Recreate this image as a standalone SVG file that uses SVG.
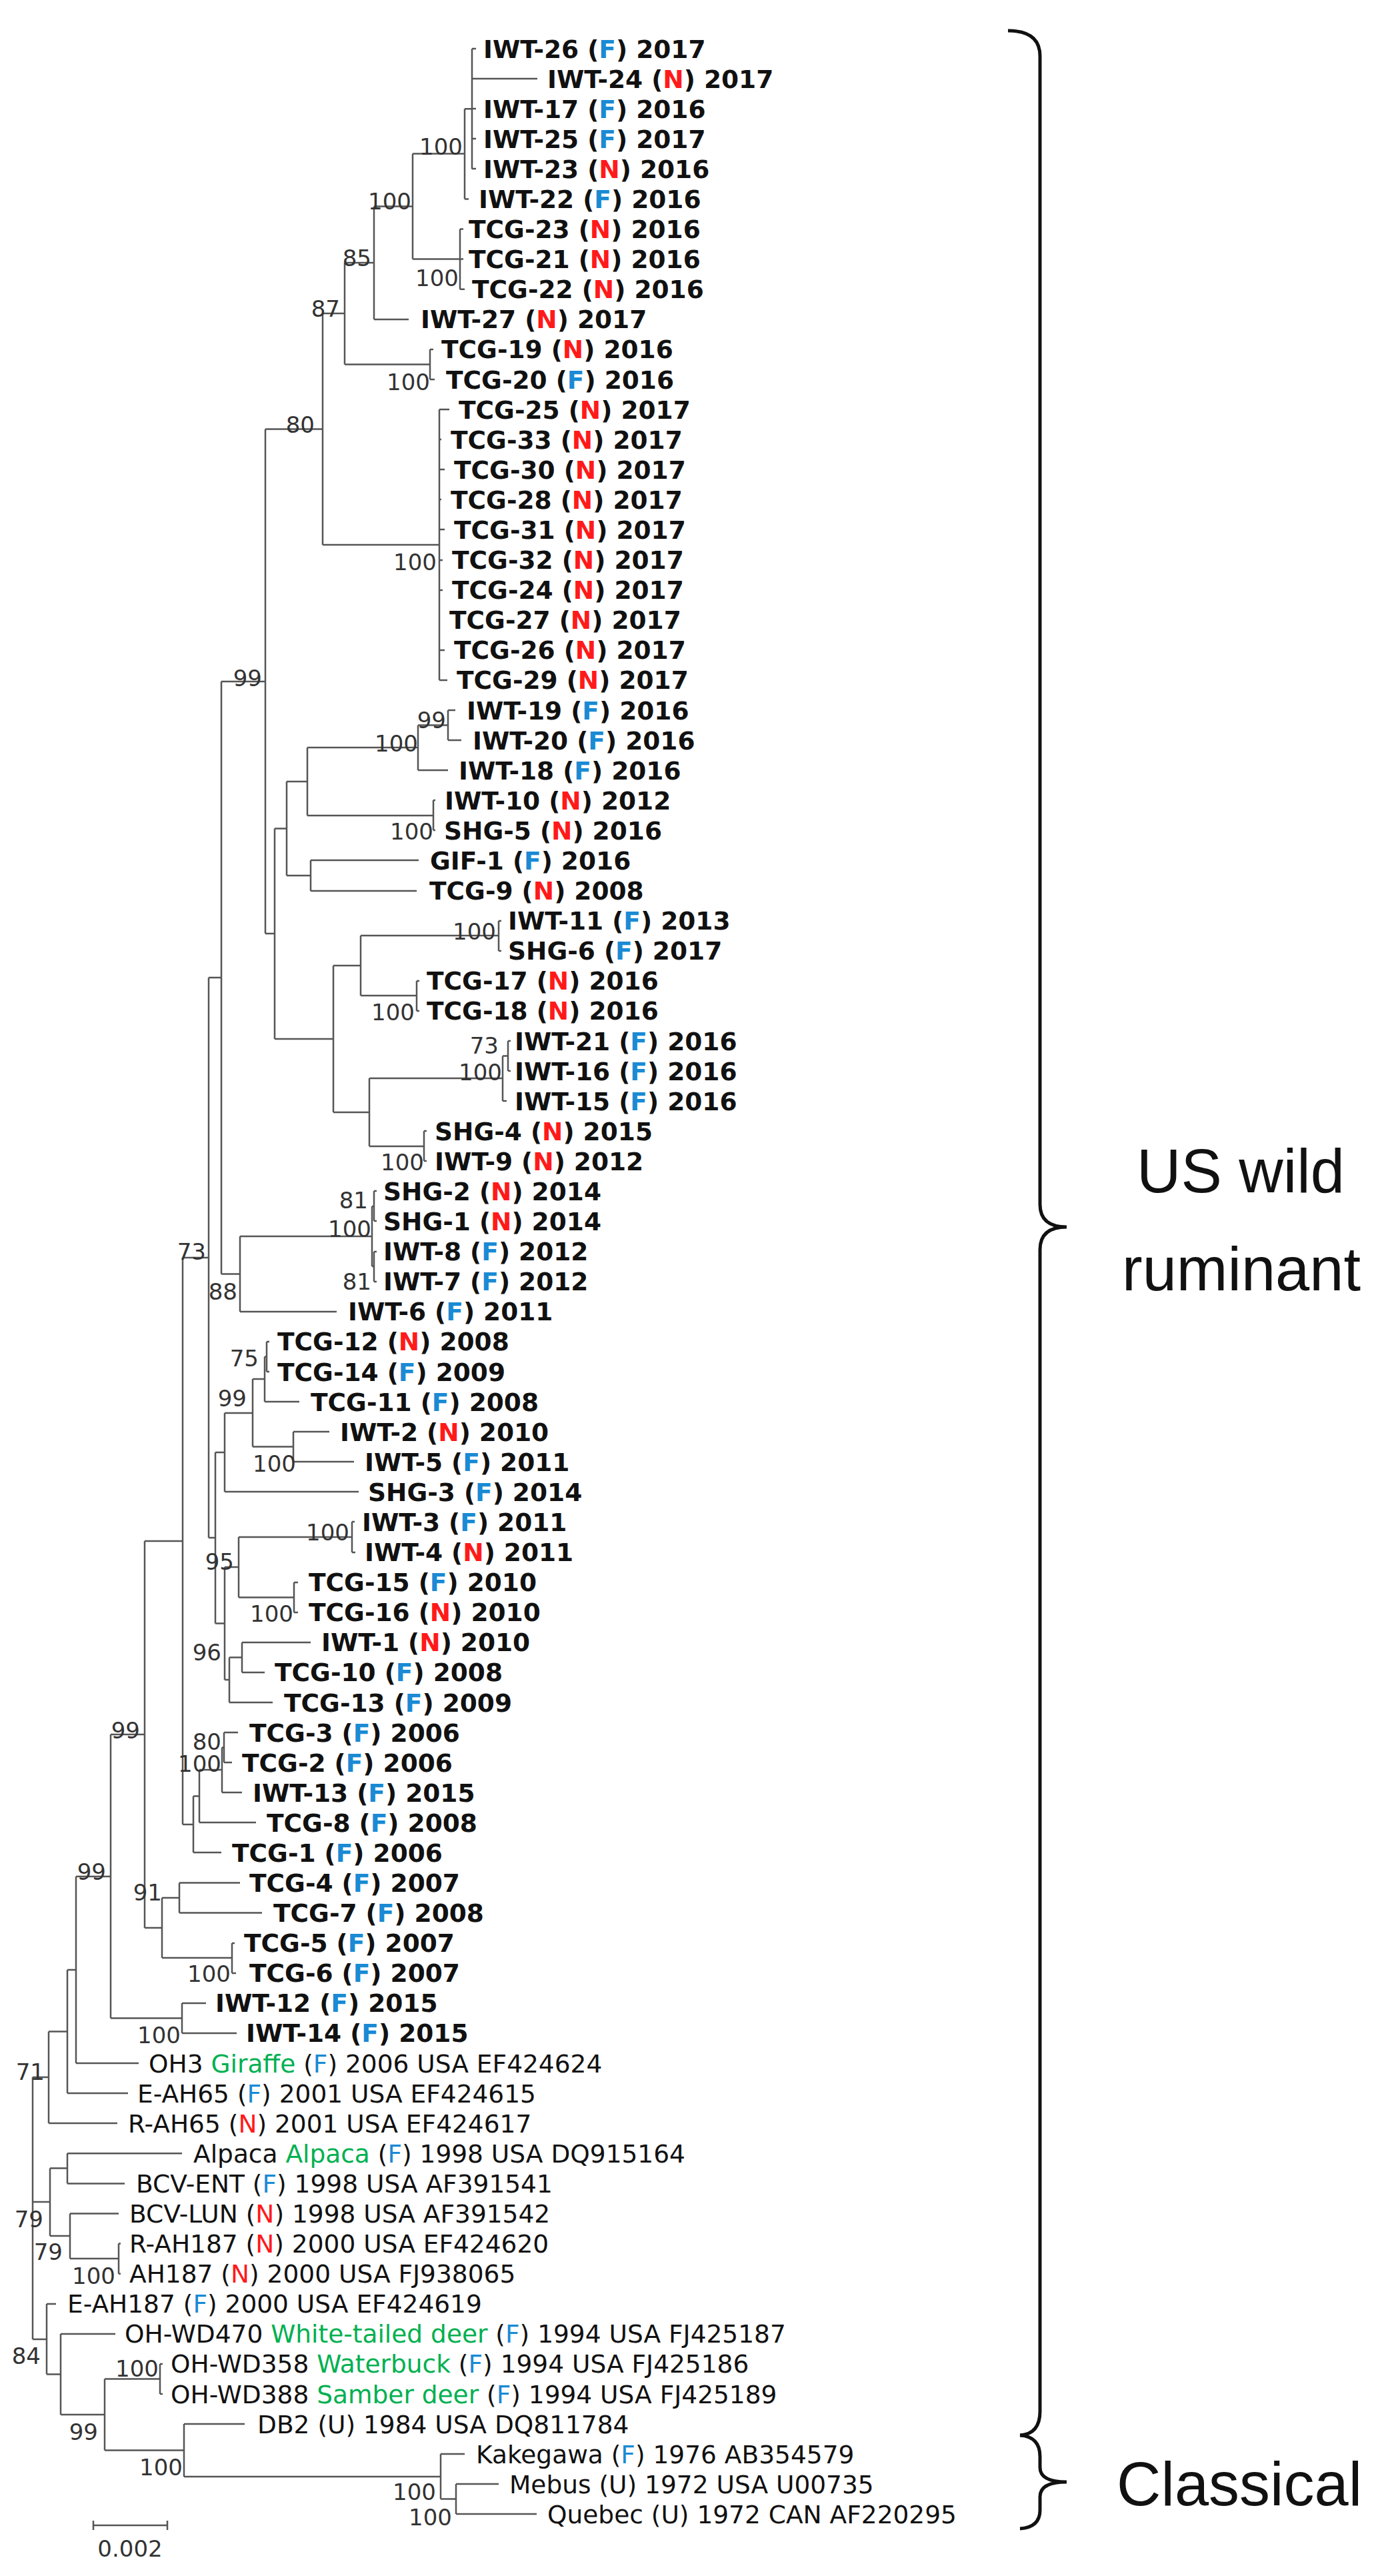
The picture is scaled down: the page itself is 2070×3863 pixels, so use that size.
<svg xmlns="http://www.w3.org/2000/svg" width="2070" height="3863" viewBox="0 0 2070 3863">
<style>
.t{font-family:"DejaVu Sans",Verdana,sans-serif;font-size:37.5px;fill:#111}
.w{font-weight:bold}
.f{fill:#1a8ad4}
.n{fill:#ff1a1a}
.g{fill:#00b050}
.b{font-family:"DejaVu Sans",Verdana,sans-serif;font-size:34px;fill:#333;text-anchor:end}
.big{font-family:"Liberation Sans",Arial,sans-serif;font-size:92px;fill:#111}
.tree{fill:none;stroke:#555;stroke-width:2.5}
.brace{fill:none;stroke:#111;stroke-width:5}
</style>
<rect width="2070" height="3863" fill="#fff"/>
<g id="connectors" class="tree">
<path d="M49 3115V3508M49 3115H73M49 3302H75M49 3508H70
M73 3046.5V3184M73 3046.5H101M73 3184H176
M101 2954V3139M101 2954H114M101 3139H192
M114 2814V3094M114 2814H166M114 3094H208
M166 2601V3026.5M166 2601H217M166 3026.5H273
M273 3004V3049M273 3004H309M273 3049H355
M217 2311V2891M217 2311H274M217 2891H243
M243 2846V2936M243 2846H269M243 2936H348
M269 2823.5V2868.6M269 2823.5H360M269 2868.6H393
M348 2914V2959M348 2914H352M348 2959H354
M274 1886V2736M274 1886H313M274 2736H290
M290 2693.5V2778M290 2693.5H299M290 2778H332
M299 2654V2733M299 2654H333M299 2733H384
M333 2620.5V2688M333 2620.5H336M333 2688H363
M336 2598V2643M336 2598H357M336 2643H348
M313 1466V2306M313 1466H332M313 2306H323
M323 2178V2434.5M323 2178H337M323 2434.5H337
M337 2350V2519M337 2350H358M337 2519H344
M344 2485.5V2553M344 2485.5H363M344 2553H409
M363 2463V2508M363 2463H466M363 2508H397
M358 2305V2395.5M358 2305H528M358 2395.5H441
M441 2373V2418M441 2373H447M441 2418H447
M528 2282V2328M528 2282H532M528 2328H533
M337 2119V2237M337 2119H379M337 2237H538
M379 2068V2169.5M379 2068H397M379 2169.5H440
M440 2147V2192M440 2147H494M440 2192H531
M397 2034.5V2102M397 2034.5H400M397 2102H449
M400 2012V2057M400 2012H404M400 2057H404
M332 1022V1910.5M332 1022H398M332 1910.5H360
M360 1854V1967M360 1854H558M360 1967H505
M558 1809V1899M558 1809H561M558 1899H561
M561 1786V1831M561 1786H565M561 1831H565
M561 1877V1922M561 1877H565M561 1922H565
M398 643.5V1400M398 643.5H484M398 1400H412
M412 1242.5V1558M412 1242.5H430M412 1558H500
M500 1448V1668M500 1448H541M500 1668H554
M554 1617V1719M554 1617H754M554 1719H636
M636 1696V1741M636 1696H640M636 1741H640
M754 1583.5V1651M754 1583.5H762M754 1651H760
M762 1561V1606M762 1561H766M762 1606H766
M541 1403V1493M541 1403H748M541 1493H625
M748 1381V1426M748 1381H752M748 1426H752
M625 1471V1516M625 1471H629M625 1516H629
M430 1172V1313M430 1172H461M430 1313H466
M466 1290V1336M466 1290H628M466 1336H625
M461 1121V1223M461 1121H627M461 1223H650
M650 1200V1245M650 1200H653M650 1245H653
M627 1087.5V1155M627 1087.5H672M627 1155H672
M672 1065V1110M672 1065H683M672 1110H692
M484 470V817M484 470H517M484 817H659
M659 614V1020M659 614H674M659 659H662M659 704H667M659 749H662M659 794H667M659 840H664M659 885H664M659 930H660M659 975H667M659 1020H671
M517 394V546.5M517 394H561M517 546.5H645
M645 524V569M645 524H650M645 569H652
M561 309.5V479M561 309.5H619M561 479H613
M619 230.5V388.6M619 230.5H697M619 388.6H690
M690 343.5V433.7M690 343.5H695M690 388.6H695M690 433.7H697
M697 163.2V298.5M697 163.2H708M697 298.5H703
M708 73V253.4M708 73H714M708 118H806M708 163H714M708 208H714M708 253H714
M101 3229.3V3274.4M101 3229.3H273M101 3274.4H187
M75 3251.5V3353M75 3251.5H101M75 3353H105
M105 3319.5V3387M105 3319.5H178M105 3387H178
M178 3364.6V3409.7M178 3364.6H181M178 3409.7H181
M70 3455V3560.5M70 3455H84M70 3560.5H91
M91 3500V3621M91 3500H173M91 3621H157
M157 3567.5V3674.5M157 3567.5H240M157 3674.5H276
M240 3545V3590M240 3545H244M240 3590H244
M276 3635V3714M276 3635H367M276 3714H661
M661 3680V3747.5M661 3680H697M661 3747.5H684
M684 3725V3770M684 3725H748M684 3770H805"/>
</g>
<g id="leaves">
<g id="l0"><text class="t w" x="725" y="86.5">IWT-26 (<tspan class="f">F</tspan>) 2017</text></g>
<g id="l1"><text class="t w" x="821" y="131.6">IWT-24 (<tspan class="n">N</tspan>) 2017</text></g>
<g id="l2"><text class="t w" x="725" y="176.7">IWT-17 (<tspan class="f">F</tspan>) 2016</text></g>
<g id="l3"><text class="t w" x="725" y="221.8">IWT-25 (<tspan class="f">F</tspan>) 2017</text></g>
<g id="l4"><text class="t w" x="725" y="266.9">IWT-23 (<tspan class="n">N</tspan>) 2016</text></g>
<g id="l5"><text class="t w" x="718" y="312">IWT-22 (<tspan class="f">F</tspan>) 2016</text></g>
<g id="l6"><text class="t w" x="703" y="357">TCG-23 (<tspan class="n">N</tspan>) 2016</text></g>
<g id="l7"><text class="t w" x="703" y="402.1">TCG-21 (<tspan class="n">N</tspan>) 2016</text></g>
<g id="l8"><text class="t w" x="708" y="447.2">TCG-22 (<tspan class="n">N</tspan>) 2016</text></g>
<g id="l9"><text class="t w" x="631" y="492.3">IWT-27 (<tspan class="n">N</tspan>) 2017</text></g>
<g id="l10"><text class="t w" x="662" y="537.4">TCG-19 (<tspan class="n">N</tspan>) 2016</text></g>
<g id="l11"><text class="t w" x="669" y="582.5">TCG-20 (<tspan class="f">F</tspan>) 2016</text></g>
<g id="l12"><text class="t w" x="688" y="627.6">TCG-25 (<tspan class="n">N</tspan>) 2017</text></g>
<g id="l13"><text class="t w" x="676" y="672.7">TCG-33 (<tspan class="n">N</tspan>) 2017</text></g>
<g id="l14"><text class="t w" x="681" y="717.8">TCG-30 (<tspan class="n">N</tspan>) 2017</text></g>
<g id="l15"><text class="t w" x="676" y="762.9">TCG-28 (<tspan class="n">N</tspan>) 2017</text></g>
<g id="l16"><text class="t w" x="681" y="807.9">TCG-31 (<tspan class="n">N</tspan>) 2017</text></g>
<g id="l17"><text class="t w" x="678" y="853">TCG-32 (<tspan class="n">N</tspan>) 2017</text></g>
<g id="l18"><text class="t w" x="678" y="898.1">TCG-24 (<tspan class="n">N</tspan>) 2017</text></g>
<g id="l19"><text class="t w" x="674" y="943.2">TCG-27 (<tspan class="n">N</tspan>) 2017</text></g>
<g id="l20"><text class="t w" x="681" y="988.3">TCG-26 (<tspan class="n">N</tspan>) 2017</text></g>
<g id="l21"><text class="t w" x="685" y="1033.4">TCG-29 (<tspan class="n">N</tspan>) 2017</text></g>
<g id="l22"><text class="t w" x="700" y="1078.5">IWT-19 (<tspan class="f">F</tspan>) 2016</text></g>
<g id="l23"><text class="t w" x="709" y="1123.6">IWT-20 (<tspan class="f">F</tspan>) 2016</text></g>
<g id="l24"><text class="t w" x="688" y="1168.7">IWT-18 (<tspan class="f">F</tspan>) 2016</text></g>
<g id="l25"><text class="t w" x="667" y="1213.8">IWT-10 (<tspan class="n">N</tspan>) 2012</text></g>
<g id="l26"><text class="t w" x="666" y="1258.8">SHG-5 (<tspan class="n">N</tspan>) 2016</text></g>
<g id="l27"><text class="t w" x="645" y="1303.9">GIF-1 (<tspan class="f">F</tspan>) 2016</text></g>
<g id="l28"><text class="t w" x="644" y="1349">TCG-9 (<tspan class="n">N</tspan>) 2008</text></g>
<g id="l29"><text class="t w" x="762" y="1394.1">IWT-11 (<tspan class="f">F</tspan>) 2013</text></g>
<g id="l30"><text class="t w" x="762" y="1439.2">SHG-6 (<tspan class="f">F</tspan>) 2017</text></g>
<g id="l31"><text class="t w" x="640" y="1484.3">TCG-17 (<tspan class="n">N</tspan>) 2016</text></g>
<g id="l32"><text class="t w" x="640" y="1529.4">TCG-18 (<tspan class="n">N</tspan>) 2016</text></g>
<g id="l33"><text class="t w" x="772" y="1574.5">IWT-21 (<tspan class="f">F</tspan>) 2016</text></g>
<g id="l34"><text class="t w" x="772" y="1619.6">IWT-16 (<tspan class="f">F</tspan>) 2016</text></g>
<g id="l35"><text class="t w" x="772" y="1664.7">IWT-15 (<tspan class="f">F</tspan>) 2016</text></g>
<g id="l36"><text class="t w" x="652" y="1709.7">SHG-4 (<tspan class="n">N</tspan>) 2015</text></g>
<g id="l37"><text class="t w" x="652" y="1754.8">IWT-9 (<tspan class="n">N</tspan>) 2012</text></g>
<g id="l38"><text class="t w" x="575" y="1799.9">SHG-2 (<tspan class="n">N</tspan>) 2014</text></g>
<g id="l39"><text class="t w" x="575" y="1845">SHG-1 (<tspan class="n">N</tspan>) 2014</text></g>
<g id="l40"><text class="t w" x="575" y="1890.1">IWT-8 (<tspan class="f">F</tspan>) 2012</text></g>
<g id="l41"><text class="t w" x="575" y="1935.2">IWT-7 (<tspan class="f">F</tspan>) 2012</text></g>
<g id="l42"><text class="t w" x="522" y="1980.3">IWT-6 (<tspan class="f">F</tspan>) 2011</text></g>
<g id="l43"><text class="t w" x="416" y="2025.4">TCG-12 (<tspan class="n">N</tspan>) 2008</text></g>
<g id="l44"><text class="t w" x="416" y="2070.5">TCG-14 (<tspan class="f">F</tspan>) 2009</text></g>
<g id="l45"><text class="t w" x="466" y="2115.6">TCG-11 (<tspan class="f">F</tspan>) 2008</text></g>
<g id="l46"><text class="t w" x="510" y="2160.6">IWT-2 (<tspan class="n">N</tspan>) 2010</text></g>
<g id="l47"><text class="t w" x="547" y="2205.7">IWT-5 (<tspan class="f">F</tspan>) 2011</text></g>
<g id="l48"><text class="t w" x="552" y="2250.8">SHG-3 (<tspan class="f">F</tspan>) 2014</text></g>
<g id="l49"><text class="t w" x="543" y="2295.9">IWT-3 (<tspan class="f">F</tspan>) 2011</text></g>
<g id="l50"><text class="t w" x="547" y="2341">IWT-4 (<tspan class="n">N</tspan>) 2011</text></g>
<g id="l51"><text class="t w" x="463" y="2386.1">TCG-15 (<tspan class="f">F</tspan>) 2010</text></g>
<g id="l52"><text class="t w" x="463" y="2431.2">TCG-16 (<tspan class="n">N</tspan>) 2010</text></g>
<g id="l53"><text class="t w" x="482" y="2476.3">IWT-1 (<tspan class="n">N</tspan>) 2010</text></g>
<g id="l54"><text class="t w" x="412" y="2521.4">TCG-10 (<tspan class="f">F</tspan>) 2008</text></g>
<g id="l55"><text class="t w" x="426" y="2566.5">TCG-13 (<tspan class="f">F</tspan>) 2009</text></g>
<g id="l56"><text class="t w" x="374" y="2611.5">TCG-3 (<tspan class="f">F</tspan>) 2006</text></g>
<g id="l57"><text class="t w" x="363" y="2656.6">TCG-2 (<tspan class="f">F</tspan>) 2006</text></g>
<g id="l58"><text class="t w" x="379" y="2701.7">IWT-13 (<tspan class="f">F</tspan>) 2015</text></g>
<g id="l59"><text class="t w" x="400" y="2746.8">TCG-8 (<tspan class="f">F</tspan>) 2008</text></g>
<g id="l60"><text class="t w" x="348" y="2791.9">TCG-1 (<tspan class="f">F</tspan>) 2006</text></g>
<g id="l61"><text class="t w" x="374" y="2837">TCG-4 (<tspan class="f">F</tspan>) 2007</text></g>
<g id="l62"><text class="t w" x="410" y="2882.1">TCG-7 (<tspan class="f">F</tspan>) 2008</text></g>
<g id="l63"><text class="t w" x="366" y="2927.2">TCG-5 (<tspan class="f">F</tspan>) 2007</text></g>
<g id="l64"><text class="t w" x="374" y="2972.3">TCG-6 (<tspan class="f">F</tspan>) 2007</text></g>
<g id="l65"><text class="t w" x="323" y="3017.4">IWT-12 (<tspan class="f">F</tspan>) 2015</text></g>
<g id="l66"><text class="t w" x="369" y="3062.4">IWT-14 (<tspan class="f">F</tspan>) 2015</text></g>
<g id="l67"><text class="t" x="223" y="3107.5">OH3 <tspan class="g">Giraffe</tspan> (<tspan class="f">F</tspan>) 2006 USA EF424624</text></g>
<g id="l68"><text class="t" x="206" y="3152.6">E-AH65 (<tspan class="f">F</tspan>) 2001 USA EF424615</text></g>
<g id="l69"><text class="t" x="192" y="3197.7">R-AH65 (<tspan class="n">N</tspan>) 2001 USA EF424617</text></g>
<g id="l70"><text class="t" x="290" y="3242.8">Alpaca <tspan class="g">Alpaca</tspan> (<tspan class="f">F</tspan>) 1998 USA DQ915164</text></g>
<g id="l71"><text class="t" x="204" y="3287.9">BCV-ENT (<tspan class="f">F</tspan>) 1998 USA AF391541</text></g>
<g id="l72"><text class="t" x="194" y="3333">BCV-LUN (<tspan class="n">N</tspan>) 1998 USA AF391542</text></g>
<g id="l73"><text class="t" x="194" y="3378.1">R-AH187 (<tspan class="n">N</tspan>) 2000 USA EF424620</text></g>
<g id="l74"><text class="t" x="194" y="3423.2">AH187 (<tspan class="n">N</tspan>) 2000 USA FJ938065</text></g>
<g id="l75"><text class="t" x="101" y="3468.3">E-AH187 (<tspan class="f">F</tspan>) 2000 USA EF424619</text></g>
<g id="l76"><text class="t" x="187" y="3513.3">OH-WD470 <tspan class="g">White-tailed deer</tspan> (<tspan class="f">F</tspan>) 1994 USA FJ425187</text></g>
<g id="l77"><text class="t" x="256" y="3558.4">OH-WD358 <tspan class="g">Waterbuck</tspan> (<tspan class="f">F</tspan>) 1994 USA FJ425186</text></g>
<g id="l78"><text class="t" x="256" y="3603.5">OH-WD388 <tspan class="g">Samber deer</tspan> (<tspan class="f">F</tspan>) 1994 USA FJ425189</text></g>
<g id="l79"><text class="t" x="386" y="3648.6">DB2 (U) 1984 USA DQ811784</text></g>
<g id="l80"><text class="t" x="714" y="3693.7">Kakegawa (<tspan class="f">F</tspan>) 1976 AB354579</text></g>
<g id="l81"><text class="t" x="764" y="3738.8">Mebus (U) 1972 USA U00735</text></g>
<g id="l82"><text class="t" x="821" y="3783.9">Quebec (U) 1972 CAN AF220295</text></g>
</g>
<g id="support">
<text class="b" x="694" y="232">100</text>
<text class="b" x="617" y="314">100</text>
<text class="b" x="688" y="429">100</text>
<text class="b" x="557" y="399">85</text>
<text class="b" x="510" y="475">87</text>
<text class="b" x="645" y="585">100</text>
<text class="b" x="472" y="649">80</text>
<text class="b" x="655" y="855">100</text>
<text class="b" x="393" y="1029">99</text>
<text class="b" x="669" y="1092">99</text>
<text class="b" x="627" y="1127">100</text>
<text class="b" x="650" y="1259">100</text>
<text class="b" x="744" y="1409">100</text>
<text class="b" x="622" y="1530">100</text>
<text class="b" x="748" y="1580">73</text>
<text class="b" x="753" y="1620">100</text>
<text class="b" x="636" y="1755">100</text>
<text class="b" x="552" y="1812">81</text>
<text class="b" x="557" y="1855">100</text>
<text class="b" x="557" y="1934">81</text>
<text class="b" x="309" y="1889">73</text>
<text class="b" x="356" y="1949">88</text>
<text class="b" x="388" y="2049">75</text>
<text class="b" x="370" y="2109">99</text>
<text class="b" x="444" y="2207">100</text>
<text class="b" x="524" y="2310">100</text>
<text class="b" x="351" y="2354">95</text>
<text class="b" x="440" y="2432">100</text>
<text class="b" x="332" y="2490">96</text>
<text class="b" x="210" y="2607">99</text>
<text class="b" x="332" y="2624">80</text>
<text class="b" x="332" y="2657">100</text>
<text class="b" x="159" y="2819">99</text>
<text class="b" x="243" y="2850">91</text>
<text class="b" x="346" y="2972">100</text>
<text class="b" x="271" y="3064">100</text>
<text class="b" x="67" y="3119">71</text>
<text class="b" x="65" y="3340">79</text>
<text class="b" x="94" y="3389">79</text>
<text class="b" x="173" y="3425">100</text>
<text class="b" x="61" y="3545">84</text>
<text class="b" x="238" y="3564">100</text>
<text class="b" x="147" y="3659">99</text>
<text class="b" x="274" y="3712">100</text>
<text class="b" x="654" y="3749">100</text>
<text class="b" x="678" y="3787">100</text>
</g>
<g id="scale">
<path class="tree" d="M140 3787H251M140 3780V3794M251 3780V3794"/>
<text class="b" x="195" y="3834" style="text-anchor:middle">0.002</text>
</g>
<g id="group-us-wild">
<path class="brace" d="M1512 46Q1560 46 1560 84V1806Q1560 1840 1600 1840Q1560 1840 1560 1874V3616Q1560 3650 1530 3652"/>
<text class="big" x="1705" y="1788">US wild</text>
<text class="big" x="1683" y="1935">ruminant</text>
</g>
<g id="group-classical">
<path class="brace" d="M1530 3652Q1560 3654 1560 3684V3700Q1560 3722 1600 3722Q1560 3722 1560 3744V3764Q1560 3790 1530 3792"/>
<text class="big" x="1675" y="3757">Classical</text>
</g>
</svg>
